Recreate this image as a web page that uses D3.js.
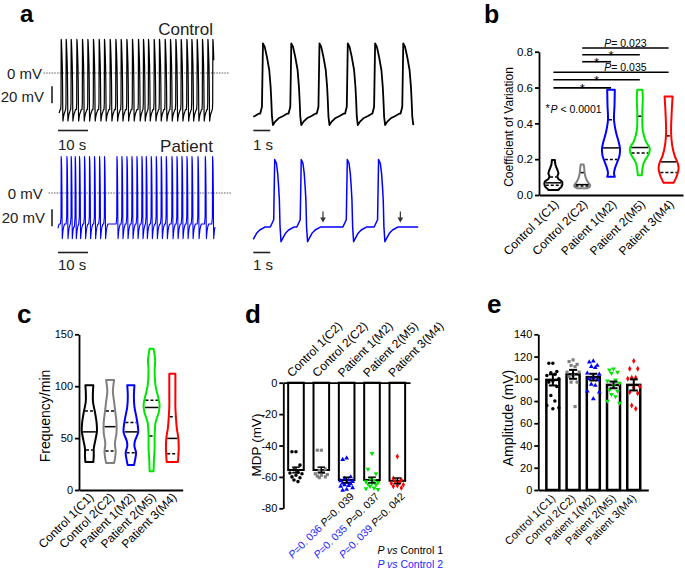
<!DOCTYPE html>
<html>
<head>
<meta charset="utf-8">
<script src="https://cdn.jsdelivr.net/npm/d3@7/dist/d3.min.js"></script>
<style>
  html, body { margin: 0; padding: 0; background: #fff; }
  svg text { font-family: "Liberation Sans", Arial, Helvetica, sans-serif; }
</style>
</head>
<body>
<svg id="fig" width="685" height="570"></svg>
<script>
// ================= DATA =================
const categories = ["Control 1(C1)", "Control 2(C2)", "Patient 1(M2)", "Patient 2(M5)", "Patient 3(M4)"];
const categoriesMDP = ["Control 1(C2)", "Control 2(C2)", "Patient 1(M2)", "Patient 2(M5)", "Patient 3(M4)"];
const colors = ["#000000", "#808080", "#0000ff", "#00e600", "#ff0000"];

// Panel a : upstroke times (s) of each action potential
const controlLongSpikes = [-1.13, 0.67, 2.33, 4.0, 5.9, 7.77, 9.57, 11.43, 13.33, 15.1, 17.0, 18.9, 20.67, 22.57, 24.43, 26.43, 28.1, 29.77, 31.67, 33.43, 35.33, 37.1, 38.9, 40.67, 42.57, 44.23, 46.0, 47.77, 49.57, 51.23];
const patientLongSpikes = [-0.8, 1.0, 2.9, 4.33, 5.67, 7.1, 8.77, 10.43, 12.1, 13.77, 15.43, 19.57, 21.23, 22.9, 24.57, 26.23, 27.9, 29.33, 31.0, 32.67, 34.33, 36.0, 37.9, 39.57, 41.23, 42.9, 44.57, 46.57, 49.0, 51.43];
const controlShortSpikes = [-1.16, 0.51, 2.18, 3.84, 5.51, 7.12, 8.78];
const patientShortSpikes = [-0.5, 1.2, 2.76, 5.47, 7.31];
const arrestArrows = [4.1, 8.65];
// AP waveforms [time from upstroke (s), mV] and diastolic phase [time from MDP (s), mV]
const controlAP = [[0, -35], [0.06, 39.6], [0.16, 35.7], [0.29, 23.9], [0.43, 8.2], [0.51, -11.4], [0.55, -27], [0.59, -46.7], [0.65, -56.5]];
const controlDiastole = [[0, -56.5], [0.13, -52.5], [0.33, -48.6], [0.6, -45.9], [0.85, -43]];
const patientAP = [[0, -28], [0.06, 43], [0.16, 38.5], [0.235, 26.7], [0.29, 10.9], [0.333, -4.7], [0.373, -36], [0.431, -53.8]];
const patientDiastole = [[0, -53.8], [0.1, -49.8], [0.26, -43.9], [0.45, -40], [0.75, -36.5]];

// Panel b : coefficient of variation violins [value, relative density]
const cvProfiles = [
  [[0.195,0.15],[0.17,0.2],[0.14,0.4],[0.12,0.5],[0.105,0.4],[0.09,0.5],[0.075,0.85],[0.06,0.9],[0.045,0.8],[0.035,0.6],[0.028,0.5]],
  [[0.17,0.15],[0.15,0.2],[0.12,0.25],[0.09,0.4],[0.07,0.6],[0.055,0.8],[0.045,0.75],[0.038,0.5]],
  [[0.587,0.38],[0.5,0.35],[0.42,0.3],[0.35,0.5],[0.3,0.75],[0.26,0.9],[0.22,0.85],[0.18,0.6],[0.15,0.4],[0.12,0.3],[0.102,0.38]],
  [[0.587,0.25],[0.55,0.3],[0.45,0.25],[0.36,0.3],[0.3,0.6],[0.26,1.0],[0.23,0.9],[0.18,0.4],[0.14,0.25],[0.11,0.2]],
  [[0.55,0.4],[0.45,0.3],[0.35,0.25],[0.28,0.35],[0.22,0.6],[0.18,0.9],[0.15,1.0],[0.12,0.9],[0.09,0.7],[0.068,0.5]]
];
const cvQuartiles = [[0.055, 0.068, 0.1], [0.05, 0.058, 0.125], [0.198, 0.263, 0.42], [0.235, 0.265, 0.44], [0.126, 0.185, 0.33]];
const cvTicks = [0, 0.2, 0.4, 0.6, 0.8];
// [from group, to group, level, label]
const cvBrackets = [[0,2,0.598,"*"],[0,3,0.643,"*"],[0,4,0.685,"P= 0.035"],[1,2,0.744,"*"],[1,3,0.783,"*"],[1,4,0.821,"P= 0.023"]];

// Panel c : frequency violins
const freqProfiles = [
  [[101,0.5],[95,0.45],[85,0.45],[75,0.7],[65,0.9],[57,0.95],[48,0.75],[40,0.55],[33,0.55],[27,0.5]],
  [[106,0.5],[95,0.35],[85,0.5],[75,0.65],[65,0.8],[55,0.8],[45,0.6],[37,0.7],[30,0.6],[26,0.5]],
  [[101,0.45],[90,0.38],[80,0.45],[70,0.7],[60,0.9],[55,0.9],[47,0.5],[42,0.45],[36,0.65],[30,0.55],[24,0.4]],
  [[136,0.25],[125,0.45],[115,0.38],[100,0.5],[90,0.8],[82,1.0],[75,0.9],[65,0.5],[52,0.38],[40,0.38],[30,0.3],[18,0.25]],
  [[112,0.38],[100,0.38],[90,0.38],[80,0.38],[70,0.45],[60,0.55],[50,0.75],[40,0.8],[32,0.75],[27,0.7]]
];
const freqQuartiles = [[38.5, 56, 76], [37.5, 61, 76], [36, 56, 65], [52, 79.5, 86.5], [35, 49.7, 70.5]];
const freqTicks = [0, 50, 100, 150];

// Panel d : MDP
const mdpMean = [-55.6, -55.6, -62, -62, -62.5];
const mdpSem = [1.8, 1.8, 1.8, 1.8, 1.8];
const mdpPoints = [
  [-44, -44, -52.5, -55.5, -57, -57.5, -58, -59, -60, -60.5, -62, -63],
  [-43, -43, -55, -56, -57, -58, -58.5, -59, -59.5, -60, -60.5],
  [-48, -49, -60, -61, -62, -62.5, -63, -63.5, -64, -64.5, -65, -65.5, -66, -67, -68, -68.5],
  [-45, -55, -58, -61, -62, -63, -63.5, -64, -64.5, -65, -66, -67, -67.5, -68],
  [-47, -61, -62, -63, -63.5, -64, -65, -65.5, -66, -67]
];
const mdpTicks = [0, -20, -40, -60, -80];
const mdpPvsControl1 = ["0. 039", "0. 037", "0. 042"];
const mdpPvsControl2 = ["0. 036", "0. 035", "0. 039"];

// Panel e : amplitude
const ampMean = [99, 104, 101.5, 94.5, 94.5];
const ampSem = [5, 4, 3, 3, 5];
const ampPoints = [
  [114, 114, 106.5, 105.5, 104, 103, 100, 98, 97, 93, 85, 80, 76, 74, 73],
  [117, 115.5, 113, 112, 111, 106, 106, 103, 102, 97, 97, 75],
  [116, 115, 112, 111, 110, 105, 104, 101, 100, 99, 95, 94, 89, 88, 82],
  [109, 108, 106, 105, 99, 98, 96, 94, 90, 89, 86, 84, 80, 78],
  [116, 109, 109, 101, 101, 100, 93, 92, 88, 87, 76, 73]
];
const ampTicks = [0, 20, 40, 60, 80, 100, 120, 140];

// ================= DRAWING =================
const F = '"Liberation Sans", Arial, Helvetica, sans-serif';
const svg = d3.select("#fig");

function label(g, x, y, s, size, o = {}) {
  const t = g.append("text").attr("x", x).attr("y", y).attr("font-size", size).attr("fill", o.fill || "#000").text(s);
  if (o.anchor) t.attr("text-anchor", o.anchor);
  if (o.weight) t.attr("font-weight", o.weight);
  return t;
}
function styleAxis(g, size) {
  g.attr("font-family", F).attr("font-size", size);
  g.selectAll("path, line").attr("stroke", "#000").attr("stroke-width", 1.8);
  g.selectAll("text").attr("fill", "#000");
}
function italicP(t, rest, fill) {
  t.append("tspan").attr("font-style", "italic").attr("fill", fill || null).text("P");
  t.append("tspan").attr("fill", fill || null).text(rest);
}

// panel letters
[["a", 20, 22, 24], ["b", 484, 23, 25], ["c", 17, 323, 26], ["d", 245, 323, 26], ["e", 487, 313, 26]]
  .forEach(([s, x, y, fs]) => label(svg, x, y, s, fs, { weight: "bold" }));

// ---------- Panel a ----------
function buildTrace(spikes, ap, dia, ramp, t0, t1) {
  const pts = [];
  spikes.forEach((s, i) => {
    ap.forEach(([dt, v]) => pts.push([s + dt, v]));
    const mdpT = s + ap[ap.length - 1][0];
    const next = i + 1 < spikes.length ? spikes[i + 1] : t1 + 5;
    const lim = next - ramp - mdpT;
    let lastV = dia[0][1];
    dia.slice(1).forEach(([dt, v]) => { if (dt < lim) { pts.push([mdpT + dt, v]); lastV = v; } });
    pts.push([next - ramp, lastV]);
  });
  const out = [];
  for (let k = 0; k < pts.length - 1; k++) {
    const [ta, va] = pts[k], [tb, vb] = pts[k + 1];
    if (ta >= t0 && ta <= t1) out.push([ta, va]);
    [t0, t1].forEach(tc => {
      if (ta < tc && tb > tc) out.push([tc, va + (vb - va) * (tc - ta) / (tb - ta)]);
    });
  }
  return out;
}
function drawTrace(xs, ys, spikes, ap, dia, ramp, color, width) {
  const [t0, t1] = xs.domain();
  const pts = buildTrace(spikes, ap, dia, ramp, t0, t1);
  svg.append("path")
    .attr("d", d3.line().x(d => xs(d[0])).y(d => ys(d[1]))(pts))
    .attr("fill", "none").attr("stroke", color).attr("stroke-width", width)
    .attr("stroke-linejoin", "round");
}
const xCL = d3.scaleLinear([0, 51.6], [59, 213.8]);
const yCL = d3.scaleLinear([0, 40], [73, 39]);
const xPL = d3.scaleLinear([0, 52.3], [58, 215]);
const yPL = d3.scaleLinear([0, 40], [193, 159]);
const xCS = d3.scaleLinear([0, 9.43], [253.3, 413.3]);
const yCS = d3.scaleLinear([0, 40], [77, 43]);
const xPS = d3.scaleLinear([0, 9.7], [253.3, 418.2]);
const yPS = d3.scaleLinear([0, 40], [196, 162]);

// 0 mV dotted lines
svg.append("line").attr("x1", 43.5).attr("x2", 229).attr("y1", yCL(0)).attr("y2", yCL(0))
  .attr("stroke", "#333").attr("stroke-width", 0.8).attr("stroke-dasharray", "1.5,1.2");
svg.append("line").attr("x1", 48.5).attr("x2", 232).attr("y1", yPL(0)).attr("y2", yPL(0))
  .attr("stroke", "#333").attr("stroke-width", 0.8).attr("stroke-dasharray", "1.5,1.2");

drawTrace(xCL, yCL, controlLongSpikes, controlAP, controlDiastole, 0.1, "#000", 1.2);
drawTrace(xPL, yPL, patientLongSpikes, patientAP, patientDiastole, 0.2, "#0000ff", 1.1);
drawTrace(xCS, yCS, controlShortSpikes, controlAP, controlDiastole, 0.1, "#000", 1.8);
drawTrace(xPS, yPS, patientShortSpikes, patientAP, patientDiastole, 0.2, "#0000ff", 1.5);

// scale bars
function bar(x1, y1, x2, y2) {
  svg.append("line").attr("x1", x1).attr("y1", y1).attr("x2", x2).attr("y2", y2)
    .attr("stroke", "#222").attr("stroke-width", 1.6);
}
bar(52, yCL(-15.5), 52, yCL(-35.5));
bar(52, yPL(-19), 52, yPL(-39));
bar(xCL(0) - 1, 130.5, xCL(10) - 1, 130.5);
bar(xPL(0), 252.5, xPL(10), 252.5);
bar(xCS(0), 130.5, xCS(1), 130.5);
bar(xPS(0), 252.5, xPS(1), 252.5);

label(svg, 213, 34.5, "Control", 17, { anchor: "end", fill: "#222" });
label(svg, 42, 78.5, "0 mV", 15, { anchor: "end", fill: "#222" });
label(svg, 44, 101.5, "20 mV", 15, { anchor: "end", fill: "#222" });
label(svg, 58, 150, "10 s", 15, { fill: "#222" });
label(svg, 213, 152, "Patient", 17, { anchor: "end", fill: "#222" });
label(svg, 42.7, 199, "0 mV", 15, { anchor: "end", fill: "#222" });
label(svg, 45, 222.5, "20 mV", 15, { anchor: "end", fill: "#222" });
label(svg, 58, 270, "10 s", 15, { fill: "#222" });
label(svg, 253, 149.5, "1 s", 15, { fill: "#222" });
label(svg, 253, 270, "1 s", 15, { fill: "#222" });

arrestArrows.forEach(t => {
  const x = xPS(t);
  svg.append("line").attr("x1", x).attr("x2", x).attr("y1", 211.5).attr("y2", 218)
    .attr("stroke", "#333").attr("stroke-width", 1.2);
  svg.append("path").attr("d", `M${x - 2.8},217.5 L${x + 2.8},217.5 L${x},222.5 Z`).attr("fill", "#333");
});

// ---------- helpers for category panels ----------
function rotLabels(g, xs, cats, axisY, dx, dy, size) {
  cats.forEach(c => {
    const cx = xs(c) + xs.bandwidth() / 2;
    g.append("text").attr("transform", `translate(${cx + dx},${axisY + dy}) rotate(-45)`)
      .attr("text-anchor", "end").attr("font-size", size).attr("fill", "#000").text(c);
  });
}
function widthAt(prof, v) {
  for (let k = 0; k < prof.length - 1; k++) {
    const [va, wa] = prof[k], [vb, wb] = prof[k + 1];
    if (v <= va && v >= vb) return wa + (wb - wa) * (v - va) / (vb - va);
  }
  return 0;
}
function drawViolins(g, xs, ys, profiles, quartiles, wMax) {
  const w = d3.scaleLinear([0, 1], [0, wMax]);
  profiles.forEach((prof, i) => {
    const cx = xs(categories[i]) + xs.bandwidth() / 2;
    const area = d3.area().x0(d => cx - w(d[1])).x1(d => cx + w(d[1])).y(d => ys(d[0]))
      .curve(d3.curveCatmullRom);
    g.append("path").attr("d", area(prof)).attr("fill", "#fff")
      .attr("stroke", colors[i]).attr("stroke-width", 2).attr("stroke-linejoin", "round");
    const [q1, med, q3] = quartiles[i];
    [[q1, true], [med, false], [q3, true]].forEach(([v, dashed]) => {
      const hw = Math.max(w(widthAt(prof, v)) - 1, 1.5);
      const ln = g.append("line").attr("x1", cx - hw).attr("x2", cx + hw)
        .attr("y1", ys(v)).attr("y2", ys(v)).attr("stroke", "#000").attr("stroke-width", 1.5);
      if (dashed) ln.attr("stroke-dasharray", "3,2");
    });
  });
}
const symbols = [d3.symbolCircle, d3.symbolSquare, d3.symbolTriangle, d3.symbolTriangle, d3.symbolDiamond];
const jitter = [0, -4, 4, -2, 2, -6, 6];
function drawDots(g, xs, ys, cats, points, size, spread) {
  points.forEach((vals, i) => {
    const cx = xs(cats[i]) + xs.bandwidth() / 2;
    vals.forEach((v, k) => {
      const x = cx + jitter[k % jitter.length] * spread;
      g.append("path").attr("d", d3.symbol(symbols[i], size)())
        .attr("transform", `translate(${x},${ys(v)})${i === 3 ? " rotate(180)" : ""}`)
        .attr("fill", colors[i]);
    });
  });
}
function drawErr(g, xs, ys, cats, means, sems, cap, width) {
  means.forEach((m, i) => {
    const cx = xs(cats[i]) + xs.bandwidth() / 2;
    const a = ys(m - sems[i]), b = ys(m + sems[i]);
    g.append("line").attr("x1", cx).attr("x2", cx).attr("y1", a).attr("y2", b).attr("stroke", "#000").attr("stroke-width", width);
    [a, b].forEach(y => g.append("line").attr("x1", cx - cap).attr("x2", cx + cap).attr("y1", y).attr("y2", y)
      .attr("stroke", "#000").attr("stroke-width", width));
  });
}

// ---------- Panel b ----------
const gB = svg.append("g");
const xB = d3.scaleBand(categories, [539, 683]);
const yB = d3.scaleLinear([0, 0.8], [195, 51.7]);
drawViolins(gB, xB, yB, cvProfiles, cvQuartiles, 10);
const axB = gB.append("g").attr("transform", "translate(539,0)")
  .call(d3.axisLeft(yB).tickValues(cvTicks).tickFormat(d3.format(".1f")).tickSize(4).tickSizeOuter(0).tickPadding(2));
styleAxis(axB, 11.5);
const axBx = gB.append("g").attr("transform", "translate(0,195)")
  .call(d3.axisBottom(xB).tickSize(0).tickSizeOuter(0).tickFormat(""));
styleAxis(axBx, 11.5);
rotLabels(gB, xB, categories, 195, 6, 10, 12);
gB.append("text").attr("transform", "translate(513,127) rotate(-90)").attr("text-anchor", "middle")
  .attr("font-size", 12).text("Coefficient of Variation");
const cB = c => xB(categories[c]) + xB.bandwidth() / 2;
cvBrackets.forEach(([a, b, lvl, lab]) => {
  const y = yB(lvl);
  gB.append("line").attr("x1", cB(a)).attr("x2", cB(b)).attr("y1", y).attr("y2", y)
    .attr("stroke", "#000").attr("stroke-width", 1.6);
  if (lab === "*") {
    gB.append("text").attr("x", (cB(a) + cB(b)) / 2).attr("y", y + 5).attr("text-anchor", "middle")
      .attr("font-size", 13).text("*");
  } else {
    const t = gB.append("text").attr("x", (cB(2) + cB(3)) / 2).attr("y", y - 1)
      .attr("text-anchor", "middle").attr("font-size", 10.5);
    italicP(t, lab.slice(1));
  }
});
gB.append("text").attr("x", 545.5).attr("y", 112).attr("font-size", 11).text("*");
italicP(gB.append("text").attr("x", 550.5).attr("y", 112.7).attr("font-size", 10.5), " < 0.0001");

// ---------- Panel c ----------
const gC = svg.append("g");
const xC = d3.scaleBand(categories, [79, 182.7]);
const yC = d3.scaleLinear([0, 150], [490, 334.3]);
drawViolins(gC, xC, yC, freqProfiles, freqQuartiles, 8);
const axC = gC.append("g").attr("transform", "translate(79,0)")
  .call(d3.axisLeft(yC).tickValues(freqTicks).tickSize(4).tickSizeOuter(0).tickPadding(2));
styleAxis(axC, 11);
const axCx = gC.append("g").attr("transform", "translate(0,490)")
  .call(d3.axisBottom(xC).tickSize(0).tickSizeOuter(0).tickFormat(""));
styleAxis(axCx, 11);
rotLabels(gC, xC, categories, 490, 5, 8, 12);
gC.append("text").attr("transform", "translate(50,416) rotate(-90)").attr("text-anchor", "middle")
  .attr("font-size", 14).text("Frequency/min");

// ---------- Panel d ----------
const gD = svg.append("g");
const xD = d3.scaleBand(categoriesMDP, [283.3, 410]);
const yD = d3.scaleLinear([0, -80], [382.7, 508.3]);
mdpMean.forEach((m, i) => {
  const cx = xD(categoriesMDP[i]) + xD.bandwidth() / 2;
  gD.append("rect").attr("x", cx - 7.8).attr("width", 15.6).attr("y", yD(0)).attr("height", yD(m) - yD(0))
    .attr("fill", "#fff").attr("stroke", "#000").attr("stroke-width", 2);
});
drawDots(gD, xD, yD, categoriesMDP, mdpPoints, 10, 1);
drawErr(gD, xD, yD, categoriesMDP, mdpMean, mdpSem, 3.8, 1.5);
const axD = gD.append("g").attr("transform", "translate(283.3,0)")
  .call(d3.axisLeft(yD).tickValues(mdpTicks).tickFormat(d => String(d)).tickSize(4).tickSizeOuter(0).tickPadding(2));
styleAxis(axD, 11);
const axDx = gD.append("g").attr("transform", `translate(0,${yD(0)})`)
  .call(d3.axisTop(xD).tickSize(0).tickSizeOuter(0).tickFormat(""));
styleAxis(axDx, 11);
categoriesMDP.forEach(c => {
  const cx = xD(c) + xD.bandwidth() / 2;
  gD.append("text").attr("transform", `translate(${cx - 4},${yD(0) - 5}) rotate(-45)`)
    .attr("font-size", 12).text(c);
});
mdpPvsControl1.forEach((p1, k) => {
  const cx = xD(categoriesMDP[k + 2]) + xD.bandwidth() / 2;
  const t = gD.append("text").attr("transform", `translate(${cx + 8},497) rotate(-45)`)
    .attr("text-anchor", "end").attr("font-size", 10.5);
  italicP(t, "=" + mdpPvsControl2[k] + " ", "#2525ff");
  italicP(t, "=" + p1, "#000");
});
gD.append("text").attr("transform", "translate(261,445) rotate(-90)").attr("text-anchor", "middle")
  .attr("font-size", 13.5).text("MDP (mV)");
const lg1 = gD.append("text").attr("x", 443).attr("y", 554).attr("text-anchor", "end").attr("font-size", 10.5);
lg1.append("tspan").attr("font-style", "italic").text("P vs");
lg1.append("tspan").text(" Control 1");
const lg2 = gD.append("text").attr("x", 443).attr("y", 567.5).attr("text-anchor", "end").attr("font-size", 10.5).attr("fill", "#2525ff");
lg2.append("tspan").attr("font-style", "italic").text("P vs");
lg2.append("tspan").text(" Control 2");

// ---------- Panel e ----------
const gE = svg.append("g");
const xE = d3.scaleBand(categories, [538.3, 648.3]).paddingOuter(0.22);
const yE = d3.scaleLinear([0, 140], [490, 334.3]);
ampMean.forEach((m, i) => {
  const cx = xE(categories[i]) + xE.bandwidth() / 2;
  gE.append("rect").attr("x", cx - 6.5).attr("width", 13).attr("y", yE(m)).attr("height", yE(0) - yE(m))
    .attr("fill", "#fff").attr("stroke", "#000").attr("stroke-width", 2.5);
});
drawDots(gE, xE, yE, categories, ampPoints, 10, 1);
drawErr(gE, xE, yE, categories, ampMean, ampSem, 4, 2);
const axE = gE.append("g").attr("transform", "translate(538.3,0)")
  .call(d3.axisLeft(yE).tickValues(ampTicks).tickSize(4).tickSizeOuter(0).tickPadding(2));
styleAxis(axE, 11);
const axEx = gE.append("g").attr("transform", "translate(0,490)")
  .call(d3.axisBottom(xE).tickSize(0).tickSizeOuter(0).tickFormat(""));
styleAxis(axEx, 11);
rotLabels(gE, xE, categories, 490, 3, 9, 11);
gE.append("text").attr("transform", "translate(513,418) rotate(-90)").attr("text-anchor", "middle")
  .attr("font-size", 14).text("Amplitude (mV)");
</script>
</body>
</html>
